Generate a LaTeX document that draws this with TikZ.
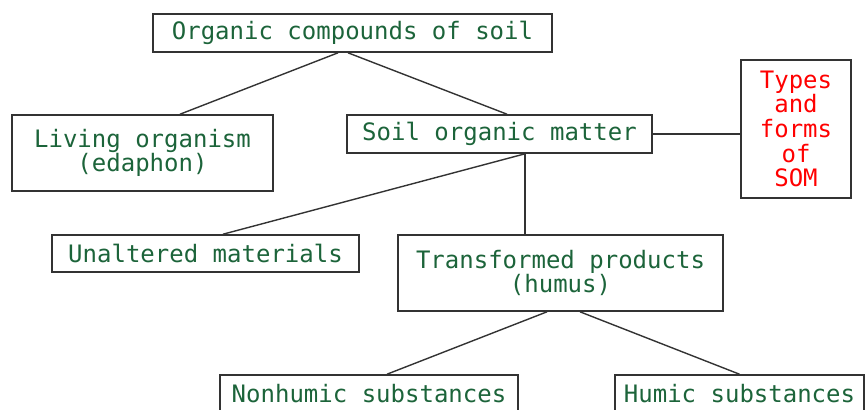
\documentclass[tikz,border=0pt]{standalone}
\usepackage{fontspec}
\setmonofont{DejaVu Sans Mono}
\definecolor{somgreen}{RGB}{28,100,58}
\definecolor{somframe}{RGB}{51,51,51}
\begin{document}
\begin{tikzpicture}[x=0.5pt,y=-0.5pt,
    box/.style={draw=somframe,line width=0.8pt,fill=white,inner sep=0pt,
      align=center,text=somgreen,font=\ttfamily\fontsize{12}{12.3}\selectfont},
    redbox/.style={box,text=red},
    link/.style={draw=somframe,line width=0.7pt}]
  \useasboundingbox (0,0) rectangle (867,409);
  \clip (0,0) rectangle (867,409);
  \draw
    (352.5,33) node[box,minimum width=199.5pt,minimum height=19pt] (soc){Organic compounds of soil}
    (142.5,153) node[box,minimum width=130.5pt,minimum height=38pt] (living){Living organism\\(edaphon)}
    (499.5,134) node[box,minimum width=152.5pt,minimum height=19pt] (som){Soil organic matter}
    (796,129) node[redbox,minimum width=55pt,minimum height=69pt] (types){Types\\and\\forms\\of\\SOM}
    (205.5,253.5) node[box,minimum width=153.5pt,minimum height=18.5pt] (unalt){Unaltered materials}
    (560.5,273) node[box,minimum width=162.5pt,minimum height=38pt] (trans){Transformed products\\(humus)}
    (369,394) node[box,minimum width=149pt,minimum height=19pt] (nonhum){Nonhumic substances}
    (739.5,394) node[box,minimum width=124.5pt,minimum height=19pt] (humic){Humic substances};
  \begin{scope}[link]
    \draw ([xshift=-7.25pt]soc.south) to ([xshift=18.75pt]living.north);
    \draw ([xshift=-2.25pt]soc.south) to ([xshift=3.75pt]som.north);
    \draw (som.east) to (som.east -| types.west);
    \draw ([xshift=12.75pt]som.south) to ([xshift=8.75pt]unalt.north);
    \draw ([xshift=12.75pt]som.south) to ([xshift=12.75pt]som.south |- trans.north);
    \draw ([xshift=-6.75pt]trans.south) to ([xshift=9pt]nonhum.north);
    \draw ([xshift=9.75pt]trans.south) to (humic.north);
  \end{scope}
\end{tikzpicture}
\end{document}
